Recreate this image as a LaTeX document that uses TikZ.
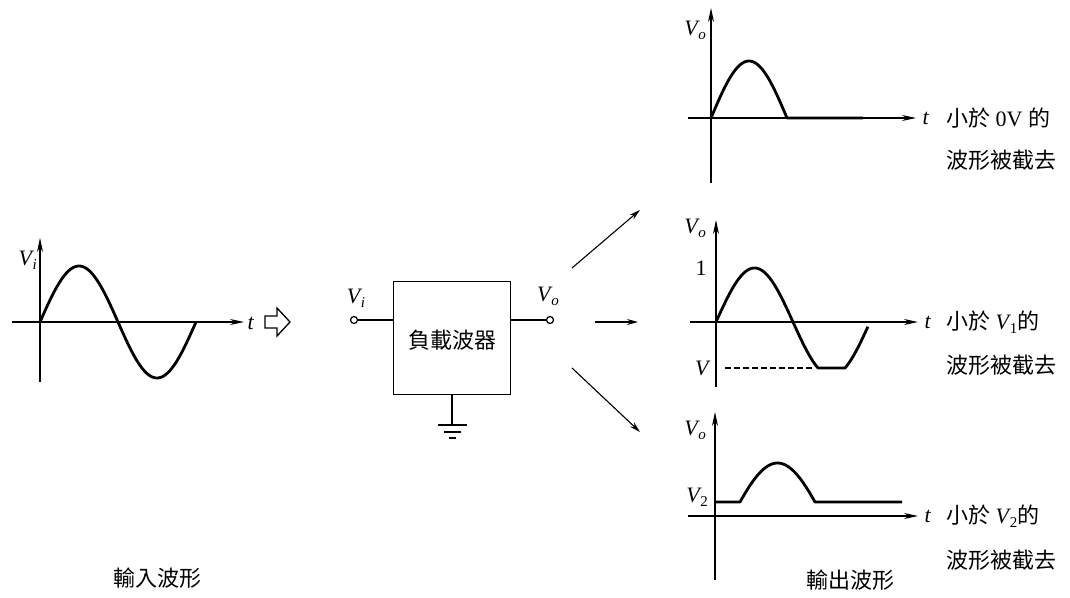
\documentclass[tikz,border=0pt]{standalone}
\usepackage{fontspec}
\setmainfont{Liberation Serif}
\newfontfamily\cjk{Noto Sans CJK TC}
\usetikzlibrary{arrows.meta}
\newcommand{\VV}[1]{\textit{V}\kern-1.5pt\raisebox{-0.4ex}{\fontsize{15}{16}\selectfont\textit{#1}}}
\newcommand{\VN}[1]{\textit{V}\kern-1.5pt\raisebox{-0.4ex}{\fontsize{15}{16}\selectfont #1}}
\newcommand{\CJ}[1]{{\cjk\fontsize{22}{26}\selectfont #1}}
\begin{document}
\begin{tikzpicture}[x=1pt,y=-1pt,
  axis/.style={line width=1.1pt,-{Stealth[length=14pt,width=6pt]}},
  wave/.style={line width=2.8pt,line join=round},
  conn/.style={line width=1.1pt,-{Stealth[length=11pt,width=6pt]}},
  lbl/.style={font=\fontsize{22}{24}\selectfont,inner sep=0pt},
  ctext/.style={font=\cjk\fontsize{22}{26}\selectfont,inner sep=0pt},
  term/.style={circle,draw,line width=1.2pt,inner sep=0pt,minimum size=7pt,fill=white}]
\useasboundingbox (0,0) rectangle (1070,597);
% ---------- input waveform ----------
\coordinate (ivb) at (40,382); \coordinate (ivt) at (40,238);
\coordinate (ihl) at (12,322); \coordinate (ihr) at (244,322);
\draw[axis] (ivb) -- (ivt);
\draw[axis] (ihl) -- (ihr);
\draw[wave] plot[domain=0:360,samples=90] ({40+\x/180*78},{322-56*sin(\x)});
\node[lbl,anchor=east] (iVi) at (37,260) {\VV{i}};
\node[lbl] (it) at (251,323) {\textit{t}};
\node[ctext] (inlab) at (157,578) {輸入波形};
% hollow arrow
\draw[line width=1.3pt,line join=miter] (265,316) -- (277,316) -- (277,308) -- (290,322)
  -- (277,336) -- (277,328) -- (265,328) -- cycle;
% ---------- clipper box ----------
\node[draw,line width=1.4pt,minimum width=117pt,minimum height=113pt,inner sep=0pt] (box) at (452,338) {};
\node[ctext] (boxtxt) at (452,340) {負載波器};
\node[term] (tin) at (354,320) {};
\node[term] (tout) at (550,320) {};
\draw[line width=1.3pt] (tin) -- (tin -| box.west);
\draw[line width=1.3pt] (tout) -- (tout -| box.east);
\node[lbl] (bVi) at (356,298) {\VV{i}};
\node[lbl] (bVo) at (548,296) {\VV{o}};
\coordinate (g0) at (452,425);
\draw[line width=1.3pt] (box.south) -- (g0);
\draw[line width=1.6pt] (438,425) -- (467,425);
\draw[line width=1.4pt] (444,432) -- (461,432);
\draw[line width=1.2pt] (449,438) -- (456,438);
% ---------- output arrows ----------
\coordinate (a1s) at (572,268); \coordinate (a1e) at (640,210);
\coordinate (a2s) at (595,322); \coordinate (a2e) at (638,322);
\coordinate (a3s) at (572,368); \coordinate (a3e) at (640,432);
\draw[conn] (a1s) -- (a1e);
\draw[conn] (a2s) -- (a2e);
\draw[conn] (a3s) -- (a3e);
% ---------- top output ----------
\coordinate (tvb) at (711,183); \coordinate (tvt) at (711,8);
\coordinate (thl) at (688,118); \coordinate (thr) at (916,118);
\draw[axis] (tvb) -- (tvt);
\draw[axis] (thl) -- (thr);
\draw[wave] plot[domain=0:180,samples=50] ({711+\x/180*76},{118-57*sin(\x)}) -- (863,118);
\node[lbl,anchor=east] (tVo) at (706,30) {\VV{o}};
\node[lbl] (tt) at (926,118) {\textit{t}};
\node[lbl,anchor=west] (tl1) at (946,118) {\CJ{小於} 0V \CJ{的}};
\node[ctext,anchor=west] (tl2) at (946,160) {波形被截去};
% ---------- middle output ----------
\coordinate (mvb) at (716,387); \coordinate (mvt) at (716,220);
\coordinate (mhl) at (690,322); \coordinate (mhr) at (918,322);
\draw[axis] (mvb) -- (mvt);
\draw[axis] (mhl) -- (mhr);
\draw[line width=1.1pt,dash pattern=on 6pt off 3pt] (725,368) -- (812,368);
\draw[wave] plot[domain=0:355,samples=180] ({716+\x/180*77},{min(368,322-54*sin(\x))});
\node[lbl,anchor=east] (mVo) at (706,228) {\VV{o}};
\node[lbl] (m1) at (701,268) {1};
\node[lbl] (mV) at (703,368) {\textit{V}};
\node[lbl] (mt) at (928,322) {\textit{t}};
\node[lbl,anchor=west] (ml1) at (946,322) {\CJ{小於} \VN{1}\CJ{的}};
\node[ctext,anchor=west] (ml2) at (946,365) {波形被截去};
% ---------- bottom output ----------
\coordinate (bvb) at (715,580); \coordinate (bvt) at (715,412);
\coordinate (bhl) at (688,516); \coordinate (bhr) at (918,516);
\draw[axis] (bvb) -- (bvt);
\draw[axis] (bhl) -- (bhr);
\draw[wave] (715,502) -- (740,502)
  -- plot[domain=15.3:164.7,samples=50] ({777.5+(\x-90)*37.5/74.7},{516-53*sin(\x)})
  -- (902,502);
\node[lbl,anchor=east] (bVo) at (706,430) {\VV{o}};
\node[lbl,anchor=east] (bV2) at (708,497) {\VN{2}};
\node[lbl] (bt) at (928,516) {\textit{t}};
\node[lbl,anchor=west] (bl1) at (946,516) {\CJ{小於} \VN{2}\CJ{的}};
\node[ctext,anchor=west] (bl2) at (946,560) {波形被截去};
\node[ctext] (outlab) at (850,580) {輸出波形};
\end{tikzpicture}
\end{document}
